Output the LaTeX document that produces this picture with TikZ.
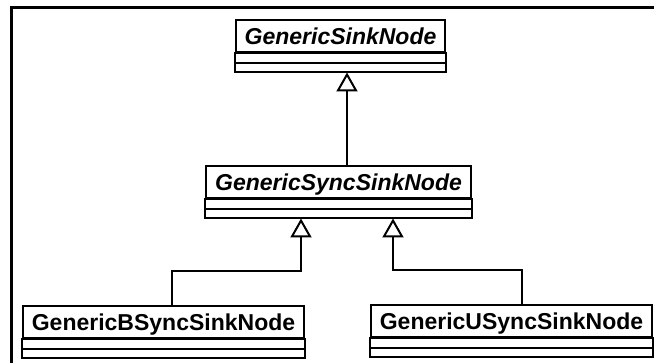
\documentclass[tikz,border=0pt]{standalone}
\usepackage{fontspec}
\setmainfont{Liberation Sans}
\usetikzlibrary{arrows.meta}
\usetikzlibrary{positioning}

\tikzset{
  umlclass/.style={draw, line width=2pt, anchor=north, inner xsep=9pt, inner ysep=8pt,
    text height=16.5pt, text depth=0pt,
    font=\fontsize{23}{27}\selectfont\bfseries},
  abstract/.style={umlclass, font=\fontsize{23}{27}\selectfont\bfseries\itshape},
  compartment/.style={draw, line width=2pt},
  inherit/.style={line width=2pt, -{Triangle[open, length=19pt, width=21pt]}}
}

\begin{document}
\begin{tikzpicture}[x=1pt, y=-1pt]
      \useasboundingbox (0,0) rectangle (654,363);
      \clip (0,0) rectangle (654,363);
      % frame round the sheet
      \draw[line width=3pt] (11,380) -- (11,8) -- (680,8);
      \node[abstract] (sinknode) at (340.5,19) {GenericSinkNode};
      \node[abstract] (syncnode) at (338.5,165) {GenericSyncSinkNode};
      \node[umlclass] (bsyncnode) at (163.5,305) {GenericBSyncSinkNode};
      \node[umlclass] (usyncnode) at (511.5,304) {GenericUSyncSinkNode};
      % attribute and operation compartments
      \foreach \n in {sinknode,syncnode,bsyncnode,usyncnode}{
        \draw[compartment] (\n.south west) rectangle ([yshift=-9.5pt]\n.south east);
        \draw[compartment] ([yshift=-9.5pt]\n.south west) rectangle ([yshift=-19pt]\n.south east);
        \coordinate (\n-bottom) at ([yshift=-19pt]\n.south);
      }
      \draw[inherit] ([xshift=8.5pt]syncnode.north) -- ([xshift=6.5pt]sinknode-bottom);
      \draw[inherit] ([xshift=8.5pt]bsyncnode.north) |- (301,271) -- ([xshift=-37.5pt]syncnode-bottom);
      \draw[inherit] ([xshift=10.5pt]usyncnode.north) |- (393,270) -- ([xshift=54.5pt]syncnode-bottom);
\end{tikzpicture}
\end{document}
